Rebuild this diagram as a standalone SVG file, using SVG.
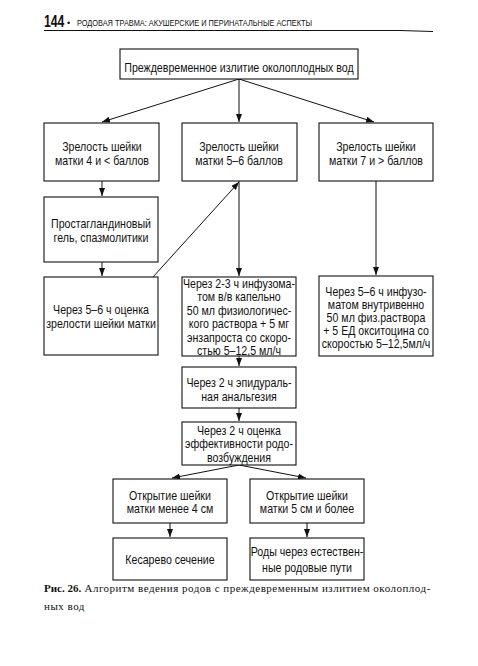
<svg xmlns="http://www.w3.org/2000/svg" width="478" height="666" viewBox="0 0 478 666">
<defs>
<marker id="ah" viewBox="0 0 8 6" refX="8" refY="3" markerWidth="8" markerHeight="6" markerUnits="userSpaceOnUse" orient="auto">
<path d="M0,0 L8,3 L0,6 Z" fill="#111"/>
</marker>
<style>
rect.b{fill:#fff;stroke:#111;stroke-width:1.1}
text.t{font-family:"Liberation Sans",Arial,sans-serif;font-size:12.2px;fill:#111;text-anchor:middle}
.c line{stroke:#111;stroke-width:1;marker-end:url(#ah)}
</style>
</defs>
<rect width="478" height="666" fill="#fff"/>
<g id="header">
<text transform="translate(44 27) scale(0.72 1)" font-family="Liberation Sans,sans-serif" font-size="17" font-weight="bold" fill="#111">144</text>
<text x="67" y="26" font-family="Liberation Sans,sans-serif" font-size="9" fill="#111">•</text>
<text x="77" y="26" font-family="Liberation Sans,sans-serif" font-size="9.5" fill="#111" textLength="235" lengthAdjust="spacingAndGlyphs">РОДОВАЯ ТРАВМА: АКУШЕРСКИЕ И ПЕРИНАТАЛЬНЫЕ АСПЕКТЫ</text>
<path d="M44,30.5 L400,30.5 L433,31.5" fill="none" stroke="#111" stroke-width="1.2"/>
</g>
<g class="c" id="connectors">
<line x1="239" y1="79" x2="102" y2="122"/>
<line x1="239" y1="79" x2="239" y2="122"/>
<line x1="239" y1="79" x2="374" y2="122"/>
<line x1="102" y1="181" x2="102" y2="196"/>
<line x1="102" y1="262" x2="102" y2="276"/>
<line x1="153" y1="277" x2="239" y2="182"/>
<line x1="239" y1="181" x2="239" y2="276"/>
<line x1="376" y1="181" x2="376" y2="275"/>
<line x1="239" y1="356" x2="239" y2="366"/>
<line x1="239" y1="408" x2="239" y2="421"/>
<line x1="239" y1="465" x2="172" y2="478"/>
<line x1="239" y1="465" x2="306" y2="478"/>
<line x1="170" y1="523" x2="170" y2="537"/>
<line x1="307" y1="523" x2="307" y2="537"/>
</g>
<g id="n-top"><rect class="b" x="120" y="49" width="238" height="30"/>
<text class="t" transform="translate(239 72) scale(0.87 1)">Преждевременное излитие околоплодных вод</text></g>
<g id="n-z4"><rect class="b" x="44" y="123" width="115" height="58"/>
<text class="t" transform="translate(102 151) scale(0.87 1)">Зрелость шейки</text><text class="t" transform="translate(102 165) scale(0.87 1)">матки 4 и &lt; баллов</text></g>
<g id="n-z56"><rect class="b" x="182" y="123" width="115" height="58"/>
<text class="t" transform="translate(239 151) scale(0.87 1)">Зрелость шейки</text><text class="t" transform="translate(239 165) scale(0.87 1)">матки 5–6 баллов</text></g>
<g id="n-z7"><rect class="b" x="319" y="123" width="114" height="58"/>
<text class="t" transform="translate(376 151) scale(0.87 1)">Зрелость шейки</text><text class="t" transform="translate(376 165) scale(0.87 1)">матки 7 и &gt; баллов</text></g>
<g id="n-pg"><rect class="b" x="44" y="197" width="114" height="65"/>
<text class="t" transform="translate(101 228) scale(0.87 1)">Простагландиновый</text><text class="t" transform="translate(101 242) scale(0.87 1)">гель, спазмолитики</text></g>
<g id="n-eval"><rect class="b" x="44" y="277" width="114" height="78"/>
<text class="t" transform="translate(101 314) scale(0.87 1)">Через 5–6 ч оценка</text><text class="t" transform="translate(101 328) scale(0.87 1)">зрелости шейки матки</text></g>
<g id="n-inf1"><rect class="b" x="182" y="277" width="114" height="79"/>
<text class="t" transform="translate(239 287.5) scale(0.87 1)">Через 2-3 ч инфузома-</text>
<text class="t" transform="translate(239 301) scale(0.87 1)">том в/в капельно</text>
<text class="t" transform="translate(239 314.5) scale(0.87 1)">50 мл физиологичес-</text>
<text class="t" transform="translate(239 328) scale(0.87 1)">кого раствора + 5 мг</text>
<text class="t" transform="translate(239 341.5) scale(0.87 1)">энзапроста со скоро-</text>
<text class="t" transform="translate(239 355) scale(0.87 1)">стью 5–12,5 мл/ч</text></g>
<g id="n-inf2"><rect class="b" x="319" y="276" width="114" height="80"/>
<text class="t" transform="translate(376 296) scale(0.87 1)">Через 5–6 ч инфузо-</text>
<text class="t" transform="translate(376 309) scale(0.87 1)">матом внутривенно</text>
<text class="t" transform="translate(376 322) scale(0.87 1)">50 мл физ.раствора</text>
<text class="t" transform="translate(376 335) scale(0.87 1)">+ 5 ЕД окситоцина со</text>
<text class="t" transform="translate(376 348) scale(0.87 1)">скоростью 5–12,5мл/ч</text></g>
<g id="n-epi"><rect class="b" x="182" y="367" width="114" height="41"/>
<text class="t" transform="translate(239 387) scale(0.87 1)">Через 2 ч эпидураль-</text><text class="t" transform="translate(239 401) scale(0.87 1)">ная анальгезия</text></g>
<g id="n-eff"><rect class="b" x="182" y="422" width="114" height="43"/>
<text class="t" transform="translate(239 435) scale(0.87 1)">Через 2 ч оценка</text><text class="t" transform="translate(239 448) scale(0.87 1)">эффективности родо-</text><text class="t" transform="translate(239 462) scale(0.87 1)">возбуждения</text></g>
<g id="n-o4"><rect class="b" x="113" y="479" width="114" height="44"/>
<text class="t" transform="translate(170 500) scale(0.87 1)">Открытие шейки</text><text class="t" transform="translate(170 513) scale(0.87 1)">матки менее 4 см</text></g>
<g id="n-o5"><rect class="b" x="250" y="479" width="114" height="44"/>
<text class="t" transform="translate(307 500) scale(0.87 1)">Открытие шейки</text><text class="t" transform="translate(307 513) scale(0.87 1)">матки 5 см и более</text></g>
<g id="n-cs"><rect class="b" x="113" y="538" width="114" height="42"/>
<text class="t" transform="translate(170 564) scale(0.87 1)">Кесарево сечение</text></g>
<g id="n-vag"><rect class="b" x="250" y="538" width="114" height="42"/>
<text class="t" transform="translate(307 556) scale(0.87 1)">Роды через естествен-</text><text class="t" transform="translate(307 572) scale(0.87 1)">ные родовые пути</text></g>
<g id="caption" font-family="Liberation Serif,serif" font-size="11" fill="#111">
<text x="44" y="592"><tspan font-weight="bold">Рис. 26.</tspan><tspan letter-spacing="0.5"> Алгоритм ведения родов с преждевременным излитием околоплод-</tspan></text>
<text x="44" y="610" letter-spacing="0.5">ных вод</text>
</g>
</svg>
